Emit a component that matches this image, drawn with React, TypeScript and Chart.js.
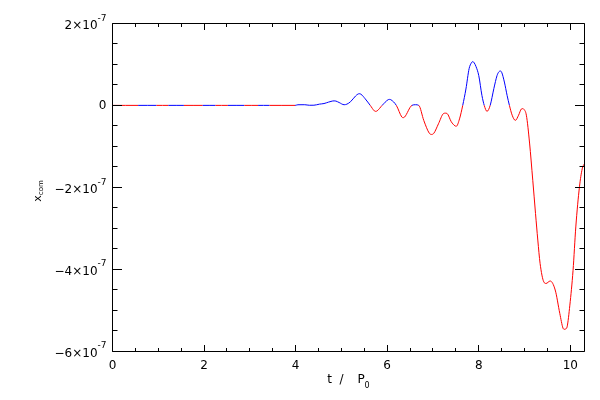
import React, { useEffect, useRef } from 'react';
import { Chart, registerables } from 'chart.js';

Chart.register(...registerables);

// time in orbital periods
const times = [
  0.0, 0.28, 0.56, 0.76, 0.96, 1.09, 1.22, 1.39, 1.56, 1.76, 1.97, 2.11, 2.25, 2.38, 2.52, 2.7, 2.88, 3.03, 3.18, 3.3,
  3.43, 3.7, 3.99, 4.05, 4.2, 4.3, 4.4, 4.52, 4.62, 4.72, 4.8, 4.84, 4.88, 4.95, 5.06, 5.12, 5.2, 5.31, 5.36, 5.39,
  5.43, 5.52, 5.63, 5.72, 5.75, 5.78, 5.89, 6.02, 6.05, 6.08, 6.2, 6.32, 6.35, 6.38, 6.54, 6.62, 6.69, 6.8, 6.92, 6.97,
  7.02, 7.12, 7.23, 7.27, 7.31, 7.4, 7.48, 7.51, 7.58, 7.65, 7.72, 7.79, 7.84, 7.87, 7.9, 7.94, 8.0, 8.07, 8.12, 8.18,
  8.25, 8.33, 8.4, 8.44, 8.47, 8.5, 8.56, 8.62, 8.67, 8.73, 8.8, 8.87, 8.93, 8.96, 8.99, 9.04, 9.11, 9.18, 9.24, 9.29,
  9.34, 9.42, 9.47, 9.56, 9.67, 9.77, 9.84, 9.87, 9.9, 9.93, 9.99, 10.06, 10.12, 10.2, 10.26, 10.31,
];

// x_com in units of 1e-7
const xcom = [
  0, -0.0001, 0, 0.0001, 0, -0.0001, 0, 0.0001, 0, -0.0001, 0, 0.0001, 0, -0.0001, 0, 0.0001, 0, -0.0001, 0, 0.0001,
  0, -0.0001, 0, 0.015, 0.016, 0.003, 0.004, 0.03, 0.045, 0.08, 0.105, 0.11, 0.105, 0.07, 0.016, 0.03, 0.09, 0.23, 0.275, 0.285,
  0.27, 0.16, 0, -0.135, -0.146, -0.135, 0, 0.138, 0.146, 0.138, 0, -0.285, -0.3, -0.285, 0, 0.016, 0, -0.37, -0.68, -0.71,
  -0.68, -0.45, -0.2, -0.19, -0.2, -0.4, -0.5, -0.51, -0.33, 0, 0.4, 0.9, 1.04, 1.07, 1.04, 0.95, 0.73, 0.24, 0, -0.146,
  0, 0.41, 0.73, 0.82, 0.84, 0.81, 0.57, 0.24, 0, -0.24, -0.366, -0.24, -0.09, -0.08, -0.1, -0.24, -0.92, -1.83, -2.64, -3.29,
  -3.86, -4.31, -4.35, -4.29, -4.51, -5.08, -5.44, -5.47, -5.46, -5.41, -4.88, -4.03, -2.97, -1.99, -1.55, -1.42,
];

const xMajorTicks = [0, 2, 4, 6, 8, 10];
const xTickLabels = ['0', '2', '4', '6', '8', '10'];
const yMajorTicks = [2, 0, -2, -4, -6];
const yTickMantissas = ['2', '0', '\u22122', '\u22124', '\u22126'];
const yTickExponent = '-7';
const xMinorStep = 0.5;
const yMinorStep = 0.5;
const X_MIN = 0;
const X_MAX = 10.31;
const Y_MIN = -6;
const Y_MAX = 2;

const BLUE = '#0000ff';
const RED = '#ff0000';
const FONT = '"DejaVu Sans", "Liberation Sans", sans-serif';

const snap = (p: number) => Math.round(p - 0.5) + 0.5;

const idlAxes = {
  id: 'idlAxes',
  afterDatasetsDraw(chart: any) {
    const { ctx, chartArea: a, scales } = chart;
    const xs = scales.x;
    const ys = scales.y;
    const L = snap(a.left);
    const R = snap(a.right);
    const T = snap(a.top);
    const B = snap(a.bottom);
    ctx.save();
    ctx.strokeStyle = '#000';
    ctx.lineWidth = 1;
    ctx.beginPath();
    ctx.moveTo(L, T);
    ctx.lineTo(R, T);
    ctx.lineTo(R, B);
    ctx.lineTo(L, B);
    ctx.closePath();

    // x ticks (bottom and top, pointing inward)
    const xMajLen = 6.5;
    const xMinLen = 3.5;
    for (let i = 0; X_MIN + i * xMinorStep <= X_MAX + 1e-9; i++) {
      const v = X_MIN + i * xMinorStep;
      const isMaj = xMajorTicks.some((m) => Math.abs(m - v) < 1e-9);
      const len = isMaj ? xMajLen : xMinLen;
      const px = snap(xs.getPixelForValue(v));
      ctx.moveTo(px, B);
      ctx.lineTo(px, B - len);
      ctx.moveTo(px, T);
      ctx.lineTo(px, T + len);
    }
    // y ticks (left and right)
    const yMajLen = 9.5;
    const yMinLen = 5;
    for (let i = 0; Y_MIN + i * yMinorStep <= Y_MAX + 1e-9; i++) {
      const v = Y_MIN + i * yMinorStep;
      const isMaj = yMajorTicks.some((m) => Math.abs(m - v) < 1e-9);
      const len = isMaj ? yMajLen : yMinLen;
      const py = snap(ys.getPixelForValue(v));
      ctx.moveTo(L, py);
      ctx.lineTo(L + len, py);
      ctx.moveTo(R, py);
      ctx.lineTo(R - len, py);
    }
    ctx.stroke();

    ctx.fillStyle = '#000';
    // x tick labels
    ctx.font = `12px ${FONT}`;
    ctx.textAlign = 'center';
    ctx.textBaseline = 'middle';
    xMajorTicks.forEach((v, i) => {
      ctx.fillText(xTickLabels[i], xs.getPixelForValue(v), a.bottom + 14.5);
    });

    // y tick labels
    const rightX = a.left - 6;
    yMajorTicks.forEach((v, i) => {
      const py = ys.getPixelForValue(v);
      if (v === 0) {
        ctx.font = `12px ${FONT}`;
        ctx.textAlign = 'right';
        ctx.textBaseline = 'middle';
        ctx.fillText('0', rightX, py);
        return;
      }
      ctx.font = `9px ${FONT}`;
      const supW = ctx.measureText(yTickExponent).width;
      ctx.textAlign = 'left';
      ctx.textBaseline = 'middle';
      ctx.fillText(yTickExponent, rightX - supW, py - 5);
      ctx.font = `12px ${FONT}`;
      ctx.textAlign = 'right';
      ctx.fillText(yTickMantissas[i] + '\u00d710', rightX - supW, py + 2.5);
    });

    // x axis title: t / P0
    const cx = (a.left + a.right) / 2;
    const ty = 380;
    ctx.font = `12px ${FONT}`;
    ctx.textAlign = 'center';
    ctx.textBaseline = 'middle';
    ctx.fillText('t', cx - 19, ty);
    ctx.fillText('/', cx - 7, ty);
    ctx.fillText('P', cx + 12.5, ty);
    ctx.font = `8px ${FONT}`;
    ctx.fillText('0', cx + 18.5, ty + 6);

    // y axis title: x_com
    ctx.save();
    ctx.translate(38, 191);
    ctx.rotate(-Math.PI / 2);
    ctx.font = `11px ${FONT}`;
    const xw = ctx.measureText('x').width;
    ctx.font = `7px ${FONT}`;
    const cw = ctx.measureText('com').width;
    const start = -(xw + cw) / 2;
    ctx.textAlign = 'left';
    ctx.textBaseline = 'middle';
    ctx.font = `11px ${FONT}`;
    ctx.fillText('x', start, 0);
    ctx.font = `7px ${FONT}`;
    ctx.fillText('com', start + xw, 3);
    ctx.restore();

    ctx.restore();
  },
};

export default function App() {
  const ref = useRef<HTMLCanvasElement | null>(null);
  useEffect(() => {
    document.body.style.margin = '0';
    document.body.style.background = '#fff';
    const canvas = ref.current;
    if (!canvas) return;
    const chart = new Chart(canvas, {
      type: 'line',
      data: {
        datasets: [
          {
            data: times.map((t, i) => ({ x: t, y: xcom[i] })),
            borderWidth: 1,
            borderColor: BLUE,
            cubicInterpolationMode: 'monotone',
            pointRadius: 0,
            fill: false,
            segment: {
              borderColor: (c: any) => (c.p0.parsed.y + c.p1.parsed.y < 0 ? RED : BLUE),
            },
          } as any,
        ],
      },
      options: {
        animation: false,
        responsive: false,
        devicePixelRatio: 1,
        layout: { padding: { left: 112.5, top: 23.5, right: 15.5, bottom: 49 } },
        plugins: { legend: { display: false }, tooltip: { enabled: false } },
        scales: {
          x: { type: 'linear', min: X_MIN, max: X_MAX, display: false },
          y: { type: 'linear', min: Y_MIN, max: Y_MAX, display: false },
        },
      },
      plugins: [idlAxes],
    });
    return () => chart.destroy();
  }, []);
  return <canvas ref={ref} width={600} height={400} style={{ display: 'block', width: 600, height: 400 }} />;
}
